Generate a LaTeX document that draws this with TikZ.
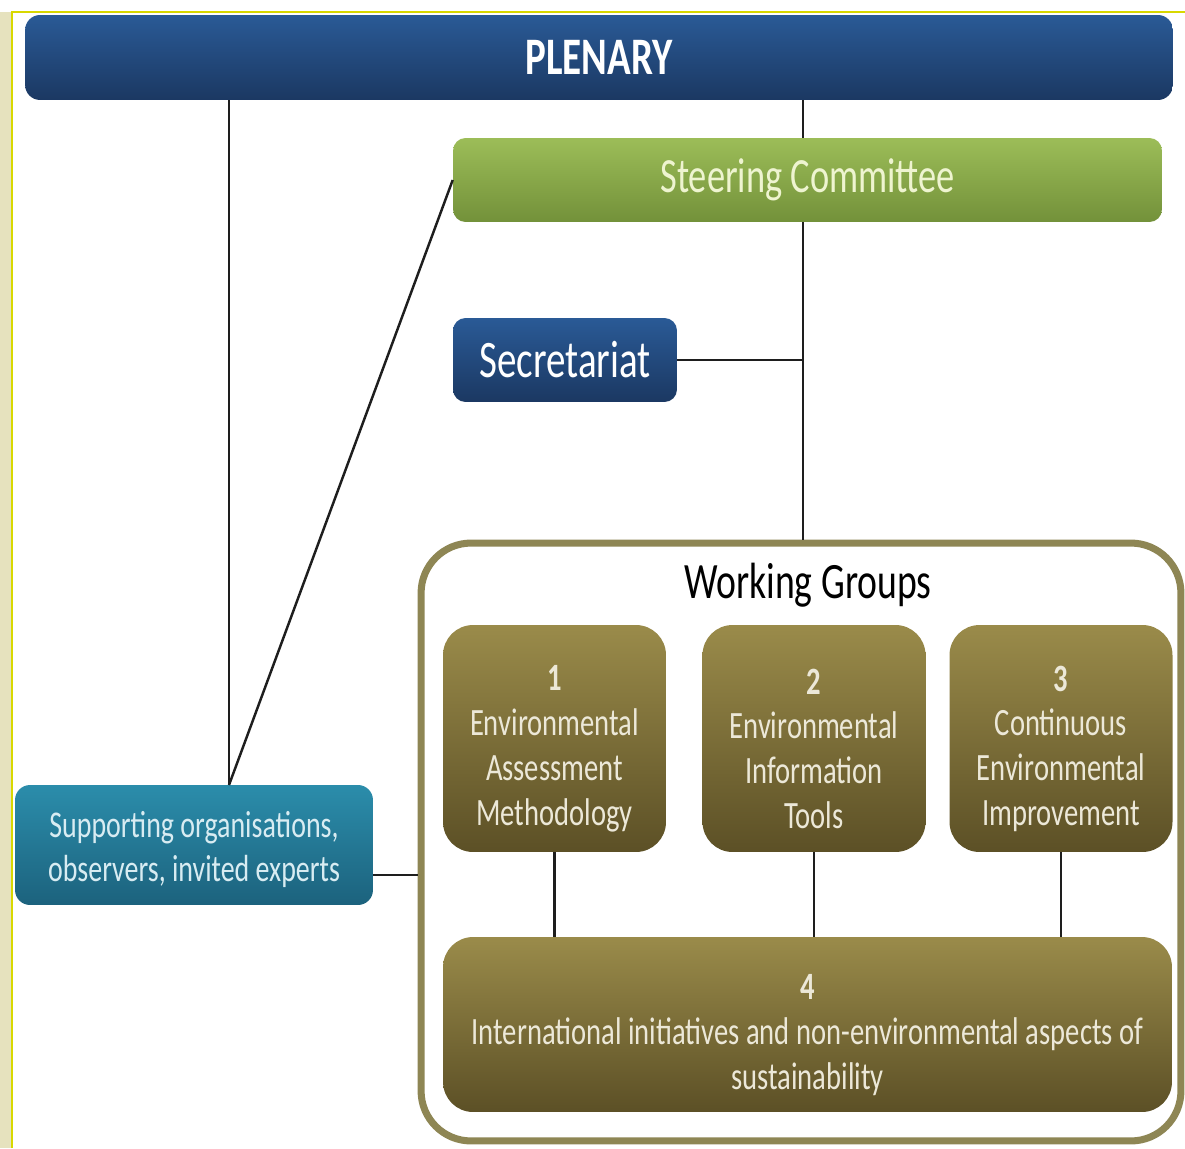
\documentclass[tikz,border=0pt]{standalone}
\usepackage{fontspec}
\setmainfont{Carlito}[FakeStretch=0.74]
\usepackage{tikz}
\usetikzlibrary{positioning,calc}
\definecolor{plenblue}{HTML}{2A5A96}
\definecolor{plendark}{HTML}{1B3862}
\definecolor{steerlight}{HTML}{9CBD58}
\definecolor{steerdark}{HTML}{73913A}
\definecolor{tealtop}{HTML}{2B8DAB}
\definecolor{tealbot}{HTML}{1C627D}
\definecolor{olivetop}{HTML}{9A8B4A}
\definecolor{olivebot}{HTML}{5C5026}
\definecolor{oliveline}{HTML}{8E8654}
\definecolor{framebeige}{HTML}{E6E2BE}
\definecolor{frameyellow}{HTML}{D8D800}
\newcommand{\wgnum}[1]{\rule{0pt}{26pt}\textbf{#1}}
\tikzset{
    box/.style={rounded corners=0.3cm, align=center, inner sep=2pt},
    bluebox/.style={box, top color=plenblue, bottom color=plendark, text=white},
    steerbox/.style={box, top color=steerlight, bottom color=steerdark, text={rgb,255:red,238;green,244;blue,208}},
    supportbox/.style={box, top color=tealtop, bottom color=tealbot, text={rgb,255:red,216;green,236;blue,242}},
    groupbox/.style={box, rounded corners=0.6cm, top color=olivetop, bottom color=olivebot, text={rgb,255:red,236;green,232;blue,216},
        font=\fontsize{22}{25.5}\selectfont},
    frame/.style={draw=oliveline, line width=4pt, rounded corners=1cm},
    link/.style={draw={rgb,255:red,30;green,30;blue,30}, line width=1.4pt}
}

\begin{document}
\begin{tikzpicture}[x=0.02cm, y=-0.02cm]
    \useasboundingbox (0,0) rectangle (1185,1148);
    % page frame
    \fill[framebeige] (0,12) rectangle (12,1148);
    \draw[frameyellow, line width=1.2pt] (12,1148) -- (12,12) -- (1185,12);

    \node[frame, minimum width=15.2cm, minimum height=11.96cm] (wgbox) at (801,842) {};

    \node[bluebox, minimum width=22.96cm, minimum height=1.7cm, font=\fontsize{30}{36}\selectfont\bfseries] (plenary) at (599,57.5) {PLENARY};
    \node[steerbox, rounded corners=0.25cm, minimum width=14.18cm, minimum height=1.68cm, font=\fontsize{28}{34}\selectfont] (steering) at (807.5,180) {Steering Committee};
    \node[bluebox, rounded corners=0.25cm, minimum width=4.48cm, minimum height=1.68cm, font=\fontsize{30}{36}\selectfont] (secretariat) at (565,360) {Secretariat};
    \node[supportbox, minimum width=7.16cm, minimum height=2.4cm, font=\fontsize{21.5}{25.5}\selectfont] (support) at (194,845) {\rule{0pt}{20pt}Supporting organisations,\\observers, invited experts};

    \node[font=\fontsize{29}{34}\selectfont] (wgtitle) at (808,585) {Working Groups};
    \node[groupbox, minimum width=4.46cm, minimum height=4.54cm] (wg1) at (554.5,738.5) {\wgnum{1}\\Environmental\\Assessment\\Methodology};
    \node[groupbox, minimum width=4.46cm, minimum height=4.54cm] (wg2) at (814,738.5) {\wgnum{2}\\Environmental\\Information\\Tools};
    \node[groupbox, minimum width=4.46cm, minimum height=4.54cm] (wg3) at (1061,738.5) {\wgnum{3}\\Continuous\\Environmental\\Improvement};
    \node[groupbox, minimum width=14.58cm, minimum height=3.5cm] (wg4) at (807.5,1024.5) {\wgnum{4}\\International initiatives and non-environmental aspects of\\sustainability};

    \coordinate (suptop) at (229,785);
    \coordinate (spine) at (803,0);
    \draw[link] (plenary.south -| suptop) -- (suptop);
    \draw[link] (steering.west) -- (suptop);
    \draw[link] (plenary.south -| spine) -- (steering.north -| spine);
    \draw[link] (steering.south -| spine) -- (wgbox.north -| spine);
    \draw[link] (secretariat.east) -- (secretariat.east -| spine);
    \draw[link] (support.east |- 0,875) -- (wgbox.west |- 0,875);
    \foreach \g in {wg1,wg2,wg3}
        \draw[link] (\g.south) -- (wg4.north -| \g.south);
\end{tikzpicture}
\end{document}
